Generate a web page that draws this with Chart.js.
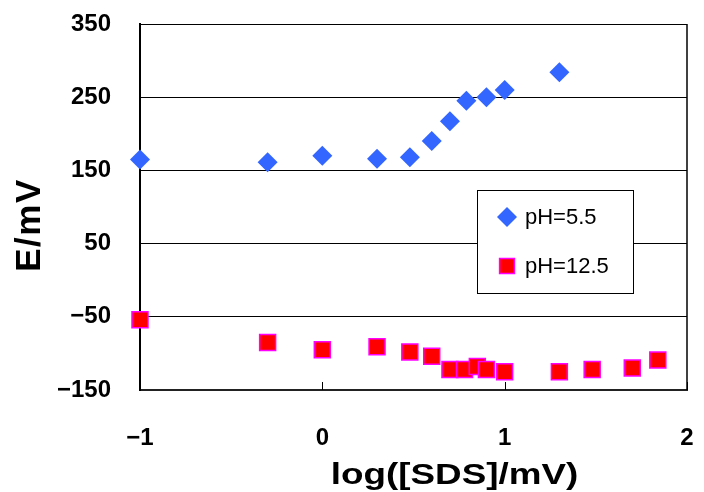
<!DOCTYPE html>
<html><head><meta charset="utf-8">
<script src="https://cdn.jsdelivr.net/npm/chart.js@4"></script>
<style>html,body{margin:0;padding:0;background:#fff}#wrap{width:704px;height:492px;position:relative}</style>
</head><body><div id="wrap"><canvas id="c" width="704" height="492"></canvas></div>
<script>
const xBlue = [-1, -0.3, 0, 0.3, 0.48, 0.6, 0.7, 0.79, 0.9, 1.0, 1.3];
const yBlue = [165, 161, 170, 166, 168, 190, 217, 245, 250, 260, 284];
const xRed = [-1, -0.3, 0, 0.3, 0.48, 0.6, 0.7, 0.78, 0.85, 0.9, 1.0, 1.3, 1.48, 1.7, 1.84];
const yRed = [-54, -85, -95, -91, -98, -104, -122, -122, -118, -122, -125, -125, -122, -120, -109];
const seriesNames = ['pH=5.5', 'pH=12.5'];
const xTicks = [-1, 0, 1, 2];
const yTicks = [-150, -50, 50, 150, 250, 350];
const xTitle = 'log([SDS]/mV)';
const yTitle = 'E/mV';

const FONT = '"Liberation Sans", Arial, sans-serif';
const fmt = v => (v < 0 ? '\u2212' + Math.abs(v) : String(v));

const decorPlugin = {
  id: 'decor',
  afterDraw(chart) {
    const ctx = chart.ctx;
    const ca = chart.chartArea;
    const xs = chart.scales.x;
    ctx.save();
    ctx.strokeStyle = '#000'; ctx.lineWidth = 1;
    xTicks.forEach(v => {
      const px = Math.round(xs.getPixelForValue(v)) + 0.5;
      ctx.beginPath(); ctx.moveTo(px, ca.bottom); ctx.lineTo(px, ca.bottom - 8); ctx.stroke();
    });
    ctx.lineWidth = 1.5;
    ctx.beginPath(); ctx.moveTo(ca.right, ca.top); ctx.lineTo(ca.right, ca.bottom); ctx.stroke();
    // legend
    const bx = 477.5, by = 190.5, bw = 156, bh = 103;
    ctx.fillStyle = '#fff';
    ctx.fillRect(bx, by, bw, bh);
    ctx.strokeStyle = '#000'; ctx.lineWidth = 1;
    ctx.strokeRect(bx, by, bw, bh);
    const ds = chart.data.datasets;
    const rows = [217, 266];
    ds.forEach((d, i) => {
      ctx.fillStyle = d.backgroundColor; ctx.strokeStyle = d.borderColor; ctx.lineWidth = d.borderWidth;
      Chart.helpers.drawPoint(ctx, {pointStyle: d.pointStyle, radius: i === 0 ? 10 : 10.5, borderWidth: d.borderWidth}, 507, rows[i]);
      ctx.fillStyle = '#000';
      ctx.font = '22px ' + FONT;
      ctx.textBaseline = 'middle'; ctx.textAlign = 'left';
      ctx.fillText(seriesNames[i], 525, rows[i] + 1);
    });
    // axis titles
    ctx.fillStyle = '#000';
    ctx.textBaseline = 'alphabetic'; ctx.textAlign = 'center';
    ctx.save();
    ctx.translate(454.5, 484);
    ctx.scale(1.27, 1);
    ctx.font = 'bold 29px ' + FONT;
    ctx.fillText(xTitle, 0, 0);
    ctx.restore();
    ctx.save();
    ctx.translate(40, 225);
    ctx.rotate(-Math.PI / 2);
    ctx.font = 'bold 35px ' + FONT;
    ctx.letterSpacing = '1.5px';
    ctx.fillText(yTitle, 0, 0);
    ctx.restore();
    ctx.restore();
  }
};

const pts = (xs, ys) => xs.map((x, i) => ({x, y: ys[i]}));
const zeroPad = s => { s.paddingTop = 0; s.paddingBottom = 0; s.paddingLeft = 0; s.paddingRight = 0; };

new Chart(document.getElementById('c'), {
  type: 'scatter',
  data: {
    datasets: [
      { label: seriesNames[0], data: pts(xBlue, yBlue), pointStyle: 'rectRot', pointRadius: 10, pointHoverRadius: 10,
        backgroundColor: '#3366FF', borderColor: '#3366FF', borderWidth: 0, clip: false },
      { label: seriesNames[1], data: pts(xRed, yRed), pointStyle: 'rect', pointRadius: 11.3, pointHoverRadius: 11.3,
        backgroundColor: '#FF0000', borderColor: '#FF00FF', borderWidth: 1.5, clip: false }
    ]
  },
  options: {
    responsive: false, animation: false, events: [],
    layout: { padding: { top: 24, right: 17, left: 0, bottom: 0 } },
    plugins: { legend: { display: false }, tooltip: { enabled: false } },
    scales: {
      x: {
        type: 'linear', min: -1, max: 2,
        afterBuildTicks: s => { s.ticks = xTicks.map(v => ({value: v})); },
        afterFit: s => { s.height = 102; zeroPad(s); },
        grid: { display: true, drawOnChartArea: false, drawTicks: false },
        border: { display: true, color: '#222', width: 2 },
        ticks: { callback: v => fmt(v), color: '#000', padding: 34, maxRotation: 0,
                 font: { family: FONT, size: 24, weight: 'bold' } },
        title: { display: false }
      },
      y: {
        type: 'linear', min: -150, max: 350,
        afterBuildTicks: s => { s.ticks = yTicks.map(v => ({value: v})); },
        afterFit: s => { s.width = 140; zeroPad(s); },
        grid: { color: '#000', lineWidth: 1, drawTicks: false },
        border: { display: true, color: '#000', width: 2 },
        ticks: { callback: v => fmt(v), color: '#000', padding: 29,
                 font: { family: FONT, size: 24, weight: 'bold' } },
        title: { display: false }
      }
    }
  },
  plugins: [decorPlugin]
});
</script></body></html>
